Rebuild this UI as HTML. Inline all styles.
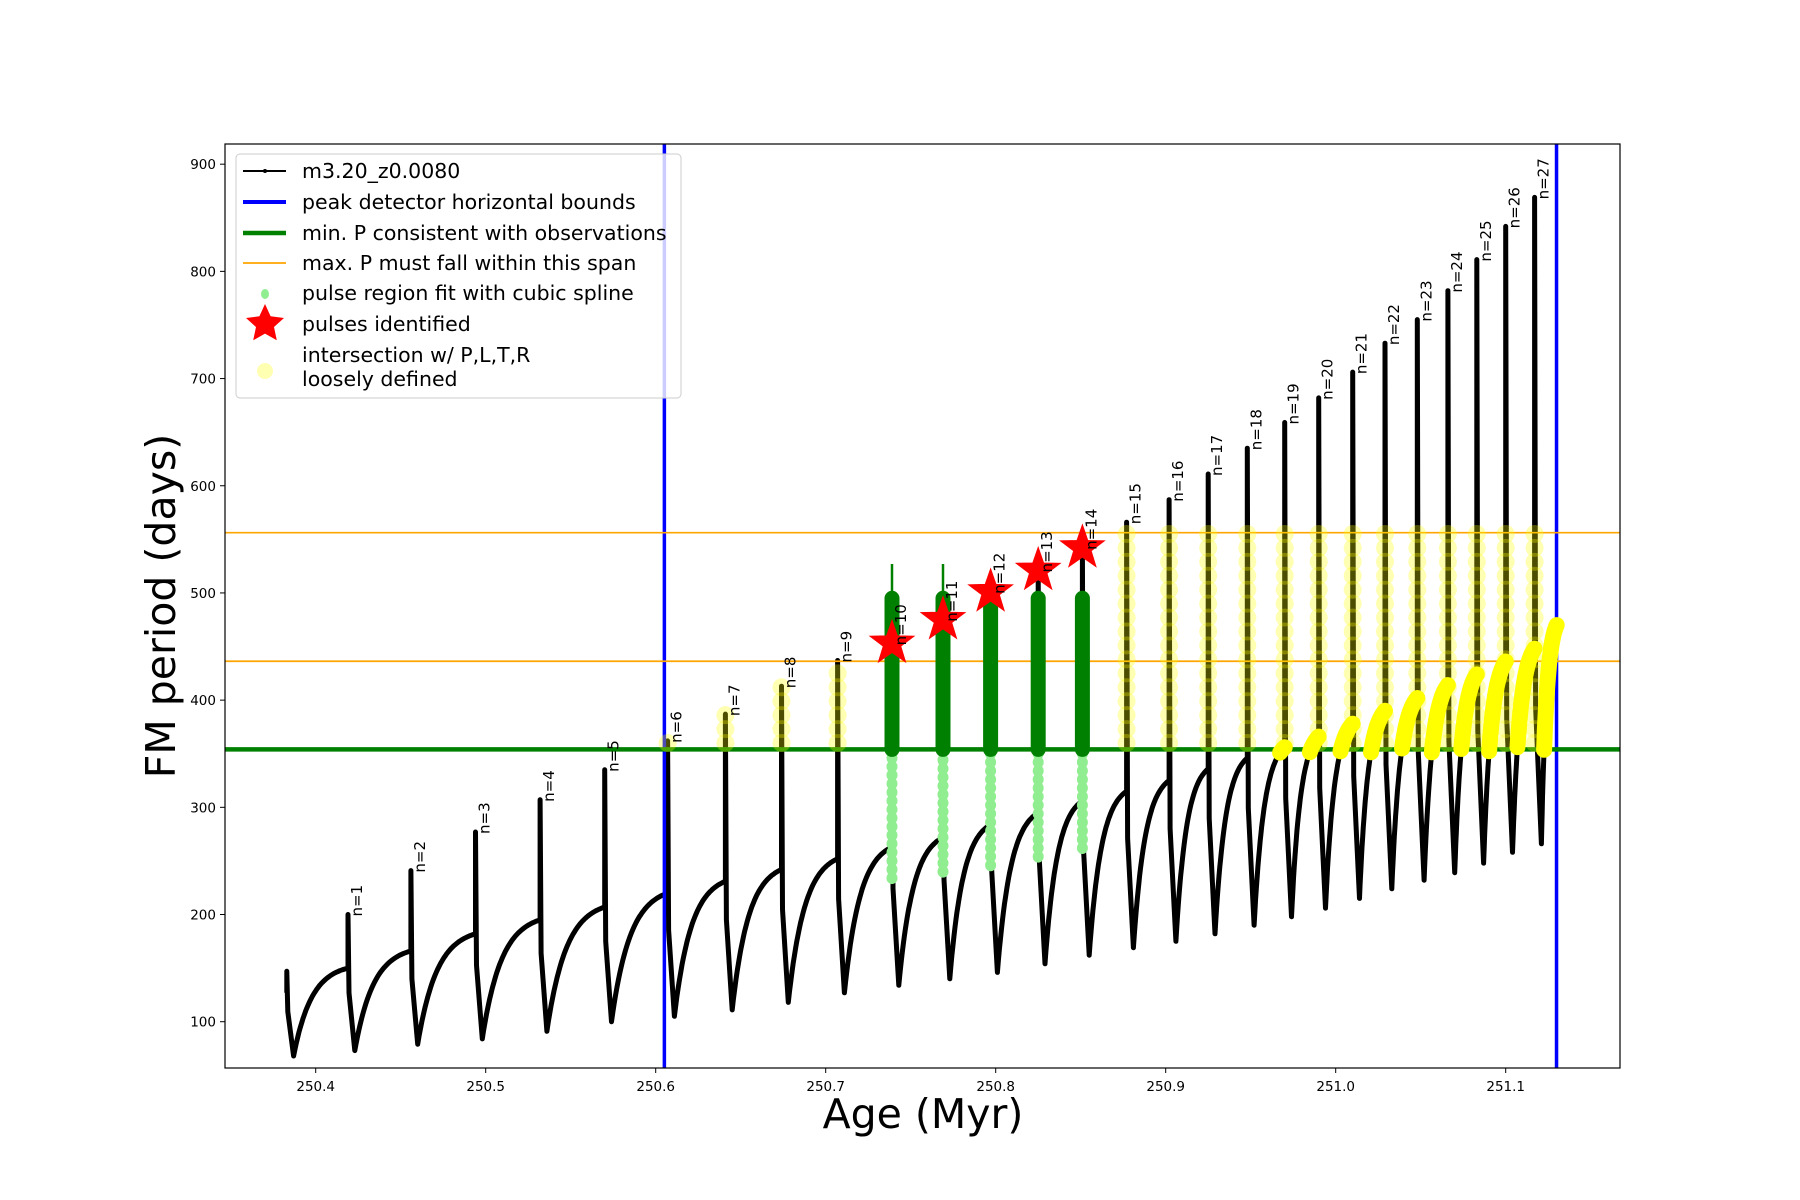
<!DOCTYPE html>
<html><head><meta charset="utf-8"><style>
body{margin:0;background:#fff}
svg{display:block;font-family:"DejaVu Sans","Liberation Sans",sans-serif}
</style></head><body>
<svg id="chart" width="1800" height="1200" xmlns="http://www.w3.org/2000/svg">
<rect width="1800" height="1200" fill="#fff"/>
<g id="plot"></g>
</svg>
<script>
const spikeAge=[250.383,250.419,250.456,250.494,250.532,250.570,250.607,250.641,250.674,250.707,250.739,250.769,250.797,250.825,250.851,250.877,250.902,250.925,250.948,250.970,250.990,251.010,251.029,251.048,251.066,251.083,251.100,251.117];
const peakP=[147,200,241,277,307,335,362,387,413,437,453,475,501,521,542,566,587,611,635,659,682,706,733,755,782,811,842,869];
const troughP=[68,73,79,84,91,100,105,111,118,127,134,140,146,154,162,169,175,182,190,198,206,215,224,232,239,248,258,266];
const plateauP=[150,166,182,195,207,220,231,242,252,263,272,284,295,306,315,325,336,346,356,366,378,390,402,414,424,436,448,470];
const endAge=251.13;
const starN=[10,11,12,13,14];
const starP=[453,475,501,521,542];
const xTicks=[250.4,250.5,250.6,250.7,250.8,250.9,251.0,251.1];
const yTicks=[100,200,300,400,500,600,700,800,900];
const blueBounds=[250.6051,251.1299];
const minP=354;
const maxSpan=[436.3,556.2];
const greenBandTop=495;

const L=225,R=1620,T=144,B=1068;
const X=v=>315.7+(v-250.4)*1700;
const Y=v=>1021.7-(v-100)*1.0719;
const NS="http://www.w3.org/2000/svg";
const plot=document.getElementById('plot');
function mk(tag,at,parent){const e=document.createElementNS(NS,tag);for(const k in at)e.setAttribute(k,at[k]);(parent||plot).appendChild(e);return e;}

const clip=mk('clipPath',{id:'cp'});mk('rect',{x:L,y:T,width:R-L,height:B-T},clip);
const g=mk('g',{'clip-path':'url(#cp)'});

let pts=[],yellowSegs=[];
for(let i=0;i<spikeAge.length;i++){
  const t=spikeAge[i],tn=(i+1<spikeAge.length)?spikeAge[i+1]:endAge;
  const prev=i>0?plateauP[i-1]:127;
  if(i===0)pts.push([t,127]);
  pts.push([t,peakP[i]]);
  pts.push([t+0.0006,prev-0.3*(prev-troughP[i])]);
  const ttr=t+0.004;pts.push([ttr,troughP[i]]);
  let seg=[];
  for(let k=1;k<=40;k++){const u=k/40;const tt=ttr+(tn-ttr)*u;
    const p=troughP[i]+(plateauP[i]-troughP[i])*(1-Math.exp(-3*u))/(1-Math.exp(-3));
    pts.push([tt,p]);if(p>=minP-3)seg.push([tt,p]);}
  if(seg.length)yellowSegs.push(seg);
}
const line=mk('polyline',{points:pts.map(p=>X(p[0]).toFixed(1)+','+Y(p[1]).toFixed(1)).join(' '),fill:'none',stroke:'#000','stroke-width':5,'stroke-linejoin':'round'},g);



blueBounds.forEach(b=>{const e=mk('line',{x1:X(b),x2:X(b),y1:T,y2:B,stroke:'#0000ff','stroke-width':3.5},g);

});
maxSpan.forEach(v=>{const e=mk('line',{x1:L,x2:R,y1:Y(v),y2:Y(v),stroke:'#ffa500','stroke-width':1.7},g);

});

starN.forEach((n,j)=>{const x=X(spikeAge[n]);
  for(let v=troughP[n]+100;v<=minP;v+=8){const c=mk('ellipse',{cx:x,cy:Y(v),rx:5.5,ry:6,fill:'#90ee90'},g);
  
  }
  const b=mk('line',{x1:x,x2:x,y1:Y(minP),y2:Y(greenBandTop),stroke:'#008000','stroke-width':15,'stroke-linecap':'round'},g);
  
  
  if(j<2){const s=mk('line',{x1:x,x2:x,y1:Y(greenBandTop),y2:Y(527),stroke:'#008000','stroke-width':2.5},g);
  
  }
});

const gl=mk('line',{x1:L,x2:R,y1:Y(minP),y2:Y(minP),stroke:'#008000','stroke-width':4.5},g);



for(let n=6;n<spikeAge.length;n++){if(n>=10&&n<=14)continue;
  const top=Math.min(peakP[n],maxSpan[1]);const x=X(spikeAge[n]);
  for(let v=minP+6;v<=top;v+=13){const c=mk('ellipse',{cx:x,cy:Y(v),rx:9,ry:9,fill:'#ffff00','fill-opacity':0.3},g);
  
  }}
yellowSegs.forEach(s=>{const e=mk('polyline',{points:s.map(p=>X(p[0]).toFixed(1)+','+Y(p[1]).toFixed(1)).join(' '),fill:'none',stroke:'#ffff00','stroke-width':16,'stroke-linecap':'round','stroke-linejoin':'round'},g);

});

function starPts(cx,cy,r){let a=[];for(let k=0;k<10;k++){const rr=k%2?r*0.4:r;const an=-Math.PI/2+k*Math.PI/5;a.push((cx+rr*Math.cos(an)).toFixed(1)+','+(cy+rr*Math.sin(an)).toFixed(1));}return a.join(' ');}
starN.forEach((n,j)=>{const s=mk('polygon',{points:starPts(X(spikeAge[n]),Y(starP[j]),23),fill:'#ff0000',stroke:'#ff0000','stroke-width':1},g);

});

for(let n=1;n<spikeAge.length;n++){const v=(n>=10&&n<=14)?starP[n-10]:peakP[n];
  const x=X(spikeAge[n])+14,y=Y(v)+2;
  const t=mk('text',{x:x,y:y,transform:`rotate(-90 ${x} ${y})`,'font-size':15,fill:'#000'});t.textContent='n='+n;
  
  }

const fr=mk('rect',{x:L,y:T,width:R-L,height:B-T,fill:'none',stroke:'#000','stroke-width':1.2});


xTicks.forEach(v=>{mk('line',{x1:X(v),x2:X(v),y1:B,y2:B+5,stroke:'#000'});
  const t=mk('text',{x:X(v),y:B+23,'text-anchor':'middle','font-size':13.5});t.textContent=v.toFixed(1);
  
  });
yTicks.forEach(v=>{mk('line',{x1:L-5,x2:L,y1:Y(v),y2:Y(v),stroke:'#000'});
  const t=mk('text',{x:L-9,y:Y(v)+5,'text-anchor':'end','font-size':13.5});t.textContent=v;
  
  });
</script>
<svg width="1800" height="1200" style="position:absolute;left:0;top:0;font-family:'DejaVu Sans','Liberation Sans',sans-serif" xmlns="http://www.w3.org/2000/svg">
<text x="923" y="1128" text-anchor="middle" font-size="41">Age (Myr)</text>
<text x="0" y="0" transform="translate(175 606) rotate(-90)" text-anchor="middle" font-size="41">FM period (days)</text>
<g font-size="20.5">
<rect x="236" y="154" width="445" height="244" rx="4" fill="#fff" fill-opacity="0.8" stroke="#ccc"/>
<g><line x1="243" x2="286" y1="171" y2="171" stroke="#000" stroke-width="2"/><circle cx="265" cy="171" r="2"/><text x="302" y="178">m3.20_z0.0080</text></g>
<g><line x1="243" x2="286" y1="202" y2="202" stroke="#00f" stroke-width="4"/><text x="302" y="209">peak detector horizontal bounds</text></g>
<g><line x1="243" x2="286" y1="233" y2="233" stroke="#008000" stroke-width="4.5"/><text x="302" y="240">min. P consistent with observations</text></g>
<g><line x1="243" x2="286" y1="263" y2="263" stroke="#ffa500" stroke-width="1.7"/><text x="302" y="270">max. P must fall within this span</text></g>
<g><ellipse cx="265" cy="294" rx="4" ry="5" fill="#90ee90"/><text x="302" y="300">pulse region fit with cubic spline</text></g>
<g><polygon points="265,304 270.6,316.3 284,318 274,327 276.8,340.3 265,333.6 253.2,340.3 256,327 246,318 259.4,316.3" fill="#f00"/><text x="302" y="331">pulses identified</text></g>
<g><ellipse cx="265" cy="371" rx="8" ry="8" fill="#ffff00" fill-opacity="0.3"/><text x="302" y="362">intersection w/ P,L,T,R</text><text x="302" y="386">loosely defined</text></g>
</g>
</svg>
</body></html>
